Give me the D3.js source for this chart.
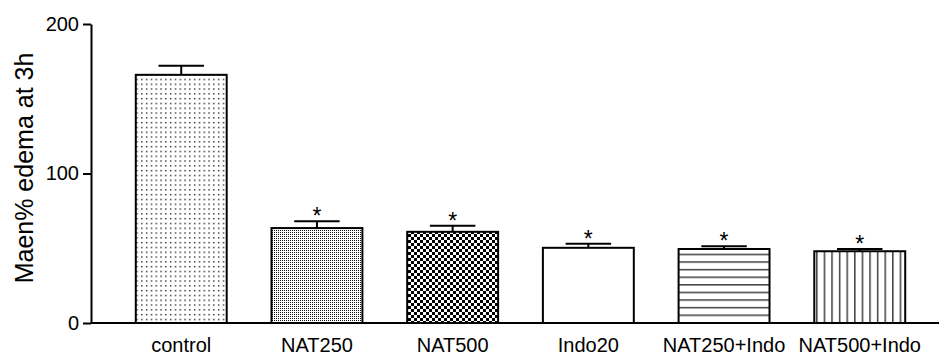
<!DOCTYPE html>
<meta charset="utf-8">
<head>
    <title>Edema bars</title>
    <script src="https://cdn.jsdelivr.net/npm/d3@7"></script>
</head>

<style>
    body { margin: 0; background: white; }
    text { font-family: Arial, "Liberation Sans", sans-serif; fill: black; }
    .axis path, .axis line { stroke: black; stroke-width: 2px; }
    .axis text { font-size: 20px; }
</style>

<svg></svg>

<script>
    var vWidth = 939;
    var vHeight = 356;

    // values
    var categories = ["control", "NAT250", "NAT500", "Indo20", "NAT250+Indo", "NAT500+Indo"];
    var means = [166, 63.5, 61, 50.3, 49.5, 48];
    var errors = [6, 4.5, 4, 2.7, 1.8, 1.5];
    var signif = [false, true, true, true, true, true];
    var patterns = ["dots", "fine", "checks", "none", "hlines", "vlines"];
    var yTicks = [0, 100, 200];

    var svg = d3.select('svg').attr('width', vWidth).attr('height', vHeight);
    var defs = svg.append('defs');

    // fill patterns
    var p = defs.append('pattern').attr('id', 'dots').attr('patternUnits', 'userSpaceOnUse')
        .attr('width', 4.8).attr('height', 4.8);
    p.append('rect').attr('width', 4.8).attr('height', 4.8).attr('fill', 'white');
    p.append('rect').attr('x', 2).attr('y', 2).attr('width', 1.3).attr('height', 1.3).attr('fill', '#000');

    p = defs.append('pattern').attr('id', 'fine').attr('patternUnits', 'userSpaceOnUse')
        .attr('width', 2).attr('height', 2);
    p.append('rect').attr('width', 2).attr('height', 2).attr('fill', 'white');
    p.append('rect').attr('width', 1).attr('height', 1).attr('fill', '#111');

    p = defs.append('pattern').attr('id', 'checks').attr('patternUnits', 'userSpaceOnUse')
        .attr('width', 6).attr('height', 6);
    p.append('rect').attr('width', 6).attr('height', 6).attr('fill', 'white');
    p.append('rect').attr('width', 3).attr('height', 3).attr('fill', 'black');
    p.append('rect').attr('x', 3).attr('y', 3).attr('width', 3).attr('height', 3).attr('fill', 'black');

    p = defs.append('pattern').attr('id', 'hlines').attr('patternUnits', 'userSpaceOnUse')
        .attr('width', 8).attr('height', 7.6);
    p.append('rect').attr('width', 8).attr('height', 7.6).attr('fill', 'white');
    p.append('rect').attr('y', 3).attr('width', 8).attr('height', 1.3).attr('fill', '#222');

    p = defs.append('pattern').attr('id', 'vlines').attr('patternUnits', 'userSpaceOnUse')
        .attr('width', 7.6).attr('height', 8);
    p.append('rect').attr('width', 7.6).attr('height', 8).attr('fill', 'white');
    p.append('rect').attr('x', 3).attr('width', 1.3).attr('height', 8).attr('fill', '#222');

    // scales
    var x = d3.scaleBand().domain(categories).range([91, 950]).paddingInner(0.33).paddingOuter(0.33);
    var y = d3.scaleLinear().domain([0, 200]).range([323, 24]);

    // bars
    var g = svg.append('g');
    g.selectAll('rect.bar').data(categories).enter().append('rect')
        .attr('class', 'bar')
        .attr('x', function (d) { return x(d); })
        .attr('y', function (d, i) { return y(means[i]); })
        .attr('width', x.bandwidth())
        .attr('height', function (d, i) { return y(0) - y(means[i]); })
        .attr('fill', function (d, i) { return patterns[i] === 'none' ? 'white' : 'url(#' + patterns[i] + ')'; })
        .attr('stroke', 'black')
        .attr('stroke-width', 2);

    // error bars (upper half)
    var capW = x.bandwidth() / 2;
    g.selectAll('line.stem').data(categories).enter().append('line')
        .attr('x1', function (d) { return x(d) + x.bandwidth() / 2; })
        .attr('x2', function (d) { return x(d) + x.bandwidth() / 2; })
        .attr('y1', function (d, i) { return y(means[i]); })
        .attr('y2', function (d, i) { return y(means[i] + errors[i]); })
        .attr('stroke', 'black').attr('stroke-width', 2);
    g.selectAll('line.cap').data(categories).enter().append('line')
        .attr('x1', function (d) { return x(d) + x.bandwidth() / 2 - capW / 2; })
        .attr('x2', function (d) { return x(d) + x.bandwidth() / 2 + capW / 2; })
        .attr('y1', function (d, i) { return y(means[i] + errors[i]); })
        .attr('y2', function (d, i) { return y(means[i] + errors[i]); })
        .attr('stroke', 'black').attr('stroke-width', 2);

    // significance stars
    g.selectAll('text.star').data(categories.filter(function (d, i) { return signif[i]; })).enter().append('text')
        .attr('x', function (d) { return x(d) + x.bandwidth() / 2; })
        .attr('y', function (d) { var i = categories.indexOf(d); return y(means[i] + errors[i]) + 3; })
        .attr('text-anchor', 'middle')
        .style('font-size', '23px')
        .text('*');

    // axes
    svg.append('g').attr('class', 'axis')
        .attr('transform', 'translate(0,' + y(0) + ')')
        .call(d3.axisBottom(x).tickSize(0).tickPadding(15).tickSizeOuter(0))
        .call(function (a) { a.select('.domain').attr('d', 'M91,0H939'); });

    svg.append('g').attr('class', 'axis')
        .attr('transform', 'translate(91,0)')
        .call(d3.axisLeft(y).tickValues(yTicks).tickSize(8).tickSizeOuter(0).tickPadding(4));

    // y label
    svg.append('text')
        .attr('transform', 'translate(33,' + 168 + ') rotate(-90)')
        .attr('text-anchor', 'middle')
        .style('font-size', '25px')
        .text('Maen% edema at 3h');
</script>
